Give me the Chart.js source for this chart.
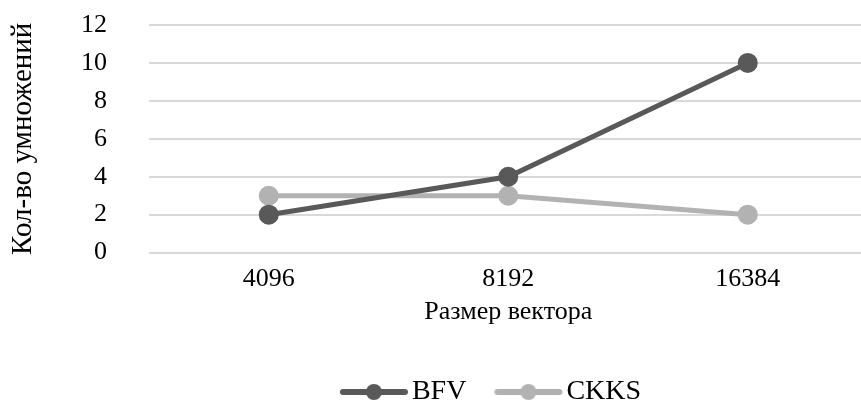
<!DOCTYPE html>
<html>
<head>
<meta charset="utf-8">
<script src="https://cdn.jsdelivr.net/npm/chart.js@4"></script>
<style>
  html, body { margin: 0; padding: 0; background: #fff; overflow: hidden; }
  #wrap { width: 861px; height: 405px; overflow: hidden; }
  canvas { display: block; }
</style>
</head>
<body>
<div id="wrap"><canvas id="grafico" width="880" height="405"></canvas></div>
<script>
// dados do gráfico
const categorias = ['4096', '8192', '16384'];
const valoresBFV = [2, 4, 10];
const valoresCKKS = [3, 3, 2];
const ticksY = [0, 2, 4, 6, 8, 10, 12];

const corBFV = '#595959';
const corCKKS = '#b2b2b2';
const fonte = '"Liberation Serif", "Times New Roman", serif';

// simbolo da legenda: linha com bolinha no meio, terminando perto do texto
function simboloLegenda(cor) {
    const c = document.createElement('canvas');
    c.width = 110;
    c.height = 20;
    const ctx = c.getContext('2d');
    ctx.strokeStyle = cor;
    ctx.lineWidth = 6;
    ctx.lineCap = 'round';
    ctx.beginPath();
    ctx.moveTo(43, 10);
    ctx.lineTo(105, 10);
    ctx.stroke();
    ctx.fillStyle = cor;
    ctx.beginPath();
    ctx.arc(74, 10, 8, 0, Math.PI * 2);
    ctx.fill();
    return c;
}

const dados = {
    labels: categorias,
    datasets: [{
        label: 'BFV',
        data: valoresBFV,
        borderColor: corBFV,
        backgroundColor: corBFV,
        borderWidth: 5,
        pointRadius: 7.5,
        pointHoverRadius: 7.5,
        tension: 0
    }, {
        label: 'CKKS',
        data: valoresCKKS,
        borderColor: corCKKS,
        backgroundColor: corCKKS,
        borderWidth: 5,
        pointRadius: 7.5,
        pointHoverRadius: 7.5,
        tension: 0
    }]
};

const simbolos = [simboloLegenda(corBFV), simboloLegenda(corCKKS)];

// padding esquerdo so p/ centralizar a legenda; o eixo y compensa a largura
const config = {
    type: 'line',
    data: dados,
    options: {
        responsive: false,
        animation: false,
        layout: { padding: { top: 25, left: 78, right: 5, bottom: -11 } },
        plugins: {
            tooltip: { enabled: false },
            legend: {
                position: 'bottom',
                labels: {
                    usePointStyle: true,
                    pointStyleWidth: 86,
                    padding: 0,
                    color: '#000',
                    font: { family: fonte, size: 28 },
                    generateLabels: function (chart) {
                        return chart.data.datasets.map(function (ds, i) {
                            return {
                                text: ds.label,
                                pointStyle: simbolos[i],
                                fillStyle: ds.borderColor,
                                strokeStyle: ds.borderColor,
                                lineWidth: 0,
                                fontColor: '#000',
                                datasetIndex: i
                            };
                        });
                    }
                }
            }
        },
        scales: {
            x: {
                offset: true,
                grid: { display: false, drawTicks: false },
                border: { display: false },
                ticks: { color: '#000', padding: 11, autoSkip: false, maxRotation: 0, font: { family: fonte, size: 26 } },
                title: {
                    display: true,
                    text: 'Размер вектора',
                    color: '#000',
                    font: { family: fonte, size: 26 },
                    padding: { top: -9, bottom: 50 }
                }
            },
            y: {
                min: 0,
                max: 12,
                afterBuildTicks: function (scale) {
                    scale.ticks = ticksY.map(v => ({ value: v }));
                },
                afterFit: function (scale) {
                    scale.width = 71;
                },
                grid: {
                    color: '#d9d9d9',
                    lineWidth: 2,
                    drawTicks: true,
                    tickLength: 42,
                    tickColor: 'rgba(0,0,0,0)'
                },
                border: { display: false },
                ticks: { color: '#000', padding: 0, autoSkip: false, font: { family: fonte, size: 26 } },
                title: {
                    display: true,
                    text: 'Кол-во умножений',
                    color: '#000',
                    font: { family: fonte, size: 29 },
                    padding: { top: -72, bottom: 0 }
                }
            }
        }
    }
};

new Chart(document.getElementById('grafico'), config);
</script>
</body>
</html>
